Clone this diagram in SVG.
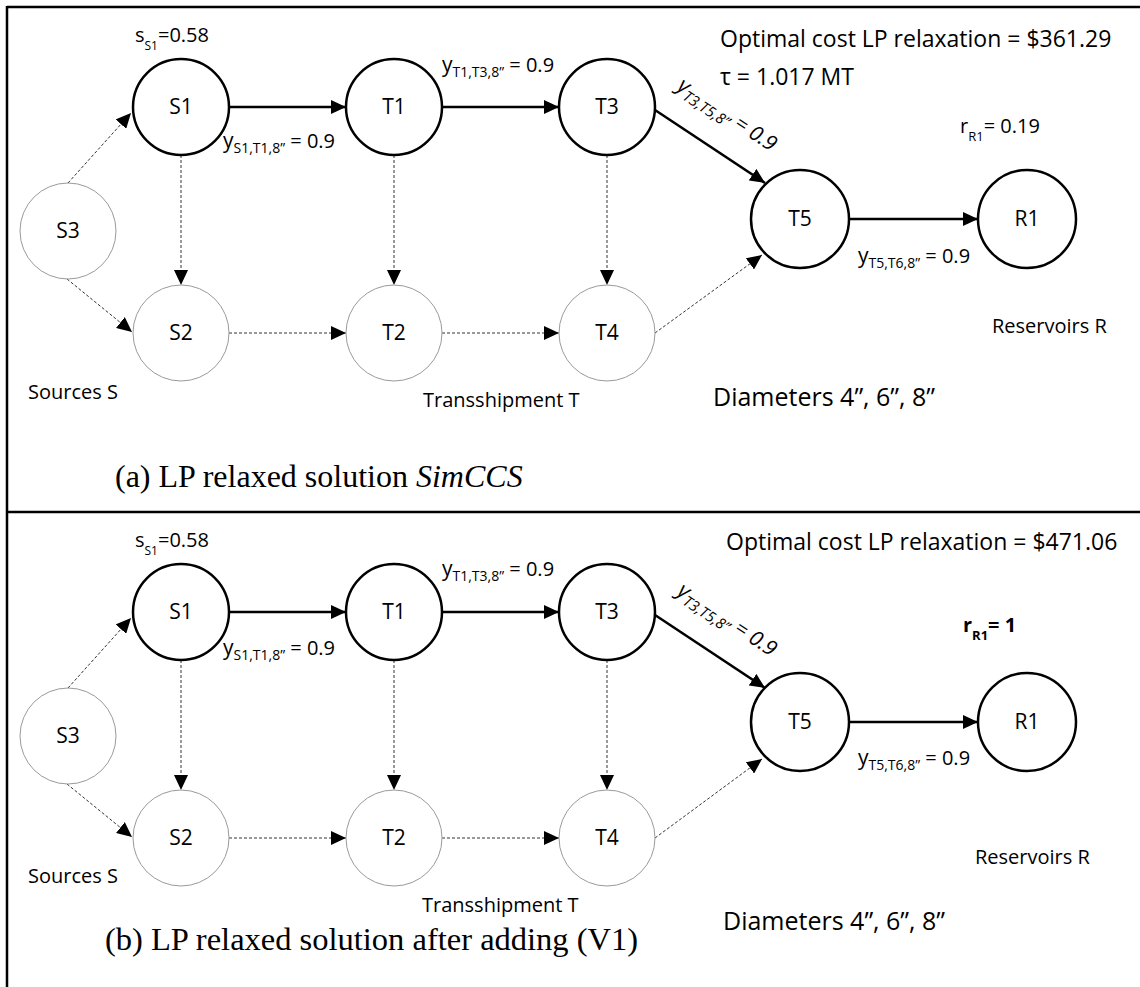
<svg xmlns="http://www.w3.org/2000/svg" width="1140" height="987" viewBox="0 0 1140 987">
<style>
.n{fill:#fff;stroke:#000;stroke-width:2.5}
.g{fill:#fff;stroke:#9a9a9a;stroke-width:1}
.e{stroke:#000;stroke-width:2.5;fill:none}
.d{stroke:#333;stroke-width:1;stroke-dasharray:3 2;fill:none}
.t{font-family:'Open Sans','Liberation Sans',sans-serif;font-size:20px;fill:#000}
.big{font-size:23px}
.dia{font-size:25px}
.nl{font-family:'Open Sans','Liberation Sans',sans-serif;font-size:21px;fill:#000;text-anchor:middle}
.cap{font-family:'Liberation Serif','Times New Roman',serif;font-size:32px;fill:#000}
.fr{stroke:#000;stroke-width:2.5;fill:none}
</style>
<defs>
<marker id="ah" markerUnits="userSpaceOnUse" markerWidth="16" markerHeight="14" refX="15" refY="7" orient="auto">
<path d="M0,0 L15,7 L0,14 z" fill="#000"/>
</marker>
</defs>
<g id="frame">
<line class="fr" x1="7" y1="7" x2="1140" y2="7"/>
<line class="fr" x1="7" y1="6" x2="7" y2="987"/>
<line class="fr" x1="7" y1="512" x2="1140" y2="512"/>
</g>
<!-- Panel (a) -->
<g id="connectors-a">
<line class="e" x1="229" y1="107" x2="346" y2="107" marker-end="url(#ah)"/>
<line class="e" x1="442" y1="107" x2="559" y2="107" marker-end="url(#ah)"/>
<line class="e" x1="655" y1="110" x2="765" y2="183" marker-end="url(#ah)"/>
<line class="e" x1="849" y1="219" x2="978" y2="219" marker-end="url(#ah)"/>
<line class="d" x1="68" y1="183" x2="131" y2="113" marker-end="url(#ah)"/>
<line class="d" x1="67" y1="279" x2="132" y2="332" marker-end="url(#ah)"/>
<line class="d" x1="181" y1="155" x2="181" y2="285" marker-end="url(#ah)"/>
<line class="d" x1="394" y1="155" x2="394" y2="285" marker-end="url(#ah)"/>
<line class="d" x1="607" y1="155" x2="607" y2="285" marker-end="url(#ah)"/>
<line class="d" x1="229" y1="333" x2="346" y2="333" marker-end="url(#ah)"/>
<line class="d" x1="442" y1="333" x2="559" y2="333" marker-end="url(#ah)"/>
<line class="d" x1="655" y1="333" x2="762" y2="255" marker-end="url(#ah)"/>
</g>
<g id="a-S1"><circle class="n" cx="181" cy="107" r="48"/><text class="nl" x="181" y="114">S1</text></g>
<g id="a-T1"><circle class="n" cx="394" cy="107" r="48"/><text class="nl" x="394" y="114">T1</text></g>
<g id="a-T3"><circle class="n" cx="607" cy="107" r="48"/><text class="nl" x="607" y="114">T3</text></g>
<g id="a-T5"><circle class="n" cx="800" cy="219" r="49"/><text class="nl" x="800" y="226">T5</text></g>
<g id="a-R1"><circle class="n" cx="1027" cy="219" r="49"/><text class="nl" x="1027" y="226">R1</text></g>
<g id="a-S3"><circle class="g" cx="68" cy="231" r="48"/><text class="nl" x="68" y="238">S3</text></g>
<g id="a-S2"><circle class="g" cx="181" cy="333" r="48"/><text class="nl" x="181" y="340">S2</text></g>
<g id="a-T2"><circle class="g" cx="394" cy="333" r="48"/><text class="nl" x="394" y="340">T2</text></g>
<g id="a-T4"><circle class="g" cx="607" cy="333" r="48"/><text class="nl" x="607" y="340">T4</text></g>
<g id="a-labels">
<text class="t" x="135" y="42">s<tspan font-size="12" dy="8">S1</tspan><tspan dy="-8">=0.58</tspan></text>
<text class="t" x="223" y="148"><tspan font-size="21">y</tspan><tspan font-size="14" dy="5">S1,T1,8”</tspan><tspan dy="-5"> = 0.9</tspan></text>
<text class="t" x="442" y="72"><tspan font-size="21">y</tspan><tspan font-size="14" dy="5">T1,T3,8”</tspan><tspan dy="-5"> = 0.9</tspan></text>
<text class="t" font-style="italic" transform="translate(676,89) rotate(33.5)"><tspan font-size="22">y</tspan><tspan font-size="15" dy="5">T3,T5,8”</tspan><tspan dy="-5" font-size="21"> = 0.9</tspan></text>
<text class="t" x="858" y="263"><tspan font-size="21">y</tspan><tspan font-size="14" dy="5">T5,T6,8”</tspan><tspan dy="-5"> = 0.9</tspan></text>
<text class="t big" x="720" y="47">Optimal cost LP relaxation = $361.29</text>
<text class="t big" x="720" y="85">τ = 1.017 MT</text>
<text class="t" x="960" y="133">r<tspan font-size="13" dy="8">R1</tspan><tspan dy="-8">= 0.19</tspan></text>
<text class="t" x="28" y="399">Sources S</text>
<text class="t" x="423" y="407">Transshipment T</text>
<text class="t dia" x="713" y="406">Diameters 4”, 6”, 8”</text>
<text class="t" x="992" y="333">Reservoirs R</text>
<text class="cap" x="115" y="487">(a) LP relaxed solution <tspan font-style="italic">SimCCS</tspan></text>
</g>
<!-- Panel (b) -->
<g id="connectors-b">
<line class="e" x1="229" y1="612" x2="346" y2="612" marker-end="url(#ah)"/>
<line class="e" x1="442" y1="612" x2="559" y2="612" marker-end="url(#ah)"/>
<line class="e" x1="655" y1="615" x2="765" y2="688" marker-end="url(#ah)"/>
<line class="e" x1="849" y1="722" x2="978" y2="722" marker-end="url(#ah)"/>
<line class="d" x1="68" y1="688" x2="131" y2="618" marker-end="url(#ah)"/>
<line class="d" x1="67" y1="784" x2="132" y2="837" marker-end="url(#ah)"/>
<line class="d" x1="181" y1="660" x2="181" y2="790" marker-end="url(#ah)"/>
<line class="d" x1="394" y1="660" x2="394" y2="790" marker-end="url(#ah)"/>
<line class="d" x1="607" y1="660" x2="607" y2="790" marker-end="url(#ah)"/>
<line class="d" x1="229" y1="838" x2="346" y2="838" marker-end="url(#ah)"/>
<line class="d" x1="442" y1="838" x2="559" y2="838" marker-end="url(#ah)"/>
<line class="d" x1="655" y1="838" x2="762" y2="759" marker-end="url(#ah)"/>
</g>
<g id="b-S1"><circle class="n" cx="181" cy="612" r="48"/><text class="nl" x="181" y="619">S1</text></g>
<g id="b-T1"><circle class="n" cx="394" cy="612" r="48"/><text class="nl" x="394" y="619">T1</text></g>
<g id="b-T3"><circle class="n" cx="607" cy="612" r="48"/><text class="nl" x="607" y="619">T3</text></g>
<g id="b-T5"><circle class="n" cx="800" cy="722" r="49"/><text class="nl" x="800" y="729">T5</text></g>
<g id="b-R1"><circle class="n" cx="1027" cy="722" r="49"/><text class="nl" x="1027" y="729">R1</text></g>
<g id="b-S3"><circle class="g" cx="68" cy="736" r="48"/><text class="nl" x="68" y="743">S3</text></g>
<g id="b-S2"><circle class="g" cx="181" cy="838" r="48"/><text class="nl" x="181" y="845">S2</text></g>
<g id="b-T2"><circle class="g" cx="394" cy="838" r="48"/><text class="nl" x="394" y="845">T2</text></g>
<g id="b-T4"><circle class="g" cx="607" cy="838" r="48"/><text class="nl" x="607" y="845">T4</text></g>
<g id="b-labels">
<text class="t" x="135" y="547">s<tspan font-size="12" dy="8">S1</tspan><tspan dy="-8">=0.58</tspan></text>
<text class="t" x="223" y="655"><tspan font-size="21">y</tspan><tspan font-size="14" dy="5">S1,T1,8”</tspan><tspan dy="-5"> = 0.9</tspan></text>
<text class="t" x="442" y="576"><tspan font-size="21">y</tspan><tspan font-size="14" dy="5">T1,T3,8”</tspan><tspan dy="-5"> = 0.9</tspan></text>
<text class="t" font-style="italic" transform="translate(676,594) rotate(33.5)"><tspan font-size="22">y</tspan><tspan font-size="15" dy="5">T3,T5,8”</tspan><tspan dy="-5" font-size="21"> = 0.9</tspan></text>
<text class="t" x="858" y="765"><tspan font-size="21">y</tspan><tspan font-size="14" dy="5">T5,T6,8”</tspan><tspan dy="-5"> = 0.9</tspan></text>
<text class="t big" x="726" y="550">Optimal cost LP relaxation = $471.06</text>
<text class="t" x="963" y="632" font-weight="bold">r<tspan font-size="13" dy="8">R1</tspan><tspan dy="-8">= 1</tspan></text>
<text class="t" x="28" y="883">Sources S</text>
<text class="t" x="422" y="912">Transshipment T</text>
<text class="t dia" x="723" y="930">Diameters 4”, 6”, 8”</text>
<text class="t" x="975" y="864">Reservoirs R</text>
<text class="cap" x="105" y="950" style="font-size:32.5px">(b) LP relaxed solution after adding (V1)</text>
</g>
</svg>
